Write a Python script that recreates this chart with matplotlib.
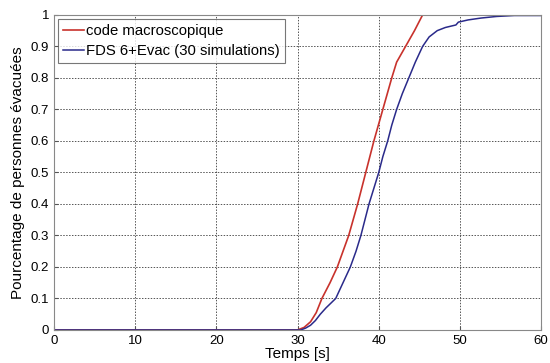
import matplotlib
matplotlib.use("Agg")
import matplotlib.pyplot as plt

# courbe du code macroscopique
t_macro = [0, 30, 30.8, 31.6, 32.3, 33.0, 34.0, 34.9, 36.3, 37.4, 38.4, 39.4,
           40.5, 41.6, 42.2, 43.3, 44.4, 45.4, 60]
p_macro = [0, 0, 0.008, 0.026, 0.055, 0.1, 0.15, 0.2, 0.3, 0.4, 0.5, 0.6,
           0.7, 0.8, 0.85, 0.9, 0.95, 1.0, 1.0]

# FDS 6+Evac, moyenne de 30 simulations
t_fds = [0, 30.4, 31.0, 31.6, 32.2, 32.8, 33.5, 34.1, 34.7, 35.6, 36.5, 37.2,
         37.8, 38.3, 38.8, 39.4, 40.0, 40.5, 41.1, 41.6, 42.2, 42.9, 43.7,
         44.5, 45.4, 46.2, 47.2, 48.2, 49.5, 49.8, 51.0, 52.6, 54.5, 56.7, 60]
p_fds = [0, 0, 0.006, 0.015, 0.03, 0.05, 0.07, 0.085, 0.1, 0.15, 0.2, 0.25,
         0.3, 0.35, 0.4, 0.45, 0.5, 0.55, 0.6, 0.65, 0.7, 0.75, 0.8,
         0.85, 0.9, 0.93, 0.95, 0.96, 0.968, 0.977, 0.984, 0.99, 0.995, 0.998, 0.998]

x_ticks = [0, 10, 20, 30, 40, 50, 60]
y_ticks = [0, 0.1, 0.2, 0.3, 0.4, 0.5, 0.6, 0.7, 0.8, 0.9, 1]
y_labels = ["0", "0.1", "0.2", "0.3", "0.4", "0.5", "0.6", "0.7", "0.8", "0.9", "1"]

plt.rcParams["font.family"] = ["Liberation Sans", "DejaVu Sans"]

fig = plt.figure(figsize=(5.5, 3.63), dpi=100)
ax = fig.add_axes([0.098, 0.091, 0.886, 0.868])

ax.plot(t_macro, p_macro, color="#c8322c", linewidth=1.2,
        label="code macroscopique")
ax.plot(t_fds, p_fds, color="#2a2a8a", linewidth=1.1,
        label="FDS 6+Evac (30 simulations)")

ax.set_xlim(0, 60)
ax.set_ylim(0, 1)
ax.set_xticks(x_ticks)
ax.set_yticks(y_ticks)
ax.set_yticklabels(y_labels)
ax.tick_params(direction="in", labelsize=9.5, color="#555555", length=3)
ax.grid(True, linestyle=(0, (1.5, 1.5)), color="#555555", linewidth=0.7)
for s in ax.spines.values():
    s.set_color("#888888")

ax.set_xlabel("Temps [s]", fontsize=11, labelpad=0)
ax.set_ylabel("Pourcentage de personnes évacuées", fontsize=11, labelpad=4)

leg = ax.legend(loc="upper left", fontsize=10.7, frameon=True, fancybox=False,
                borderaxespad=0.25, handlelength=1.4, handletextpad=0.15,
                labelspacing=0.4, borderpad=0.35)
leg.get_frame().set_edgecolor("#555555")
leg.get_frame().set_linewidth(0.8)

fig.savefig("out.png", dpi=100)
